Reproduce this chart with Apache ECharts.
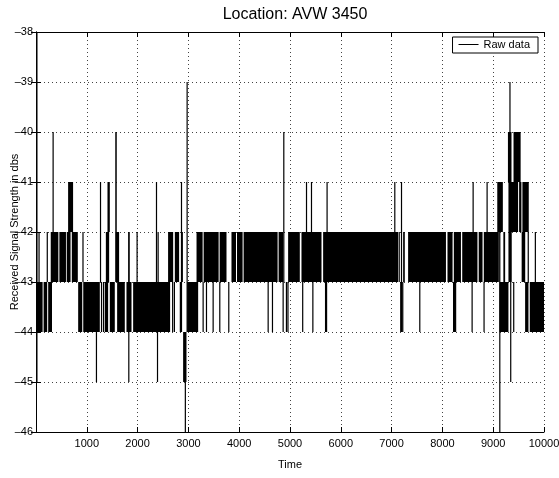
<!DOCTYPE html>
<html>
<head>
<meta charset="utf-8">
<script src="https://cdn.jsdelivr.net/npm/echarts@6/dist/echarts.min.js"></script>
<style>
html,body{margin:0;padding:0;background:#fff;}
#chart{width:559px;height:478px;}
</style>
</head>
<body>
<div id="chart"></div>
<script>
// Axis ranges / ticks
const xMin = 0, xMax = 10000, xStep = 1000;
const yMin = -46, yMax = -38, yStep = 1;

// Dense toggling runs of the raw signal, [tStart, tEnd], per level pair
// between -44 and -43
const runs44to43 = [[0,130],[150,220],[240,315],[830,910],[930,1256],[1355,1420],[1453,1551],[1597,1748],
  [1781,1880],[1912,2640],[2830,2870],[2975,3192],[9125,9300],[9628,9694],[9720,10000]];
// between -43 and -42
const runs43to42 = [[290,440],[460,590],[605,680],[705,823],[1375,1440],[1570,1636],[1813,1846],[2600,2700],
  [2733,2817],[3160,3280],[3300,3595],[3615,3750],[3848,3937],[3957,4067],[4087,4756],[4776,4865],
  [4963,5193],[5226,5620],[5652,7128],[7227,7260],[7325,8070],[8100,8200],[8225,8365],[8390,8690],
  [8715,8790],[8815,9097],[9200,9235],[9300,9365],[9560,9630]];
// between -42 and -41
const runs42to41 = [[632,730],[1407,1453],[9080,9190],[9300,9490],[9510,9555],[9575,9700]];
// between -41 and -40
const runs41to40 = [[9290,9360],[9400,9540]];
// other wide excursions [tStart, tEnd, low, high]
const runsOther = [[0,30,-45,-38],[1560,1590,-43,-40],[2896,2962,-45,-44]];

// Single-sample excursions [t, low, high]
const spikes = [
  [1290,-44,-43],[1330,-44,-43],[2690,-44,-43],[2725,-44,-43],[3290,-44,-43],[3356,-44,-43],[3487,-44,-43],
  [3618,-44,-43],[3795,-44,-43],[4570,-44,-43],[4655,-44,-43],[4865,-44,-43],[4930,-44,-43],[4960,-44,-43],
  [5250,-44,-43],[5450,-44,-43],[5700,-44,-43],[5720,-44,-43],[7180,-44,-43],[7200,-44,-43],[7220,-44,-43],
  [7555,-44,-43],[8220,-44,-43],[8240,-44,-43],[8260,-44,-43],[8585,-44,-43],[8820,-44,-43],[9404,-44,-43],
  [10,-43,-42],[60,-43,-42],[222,-43,-42],[925,-43,-42],[1990,-43,-42],[2404,-43,-42],[2880,-43,-42],
  [7150,-43,-42],[9110,-43,-42],[9690,-43,-42],[9830,-43,-42],
  [1270,-43,-41],[2372,-43,-41],[2864,-44,-41],[5325,-42,-41],[5423,-42,-41],[5730,-43,-41],[7063,-42,-41],
  [7195,-44,-41],[8605,-42,-41],[8880,-42,-41],
  [337,-42,-40],[4878,-43,-40],
  [2975,-44,-39],[9330,-42,-39],
  [1190,-45,-44],[1827,-45,-44],[2392,-45,-44],[9345,-45,-43],
  [2940,-46,-45],[9130,-46,-42]
];

const seriesData = []
  .concat(runs44to43.map(r => [r[0], r[1], -44, -43]))
  .concat(runs43to42.map(r => [r[0], r[1], -43, -42]))
  .concat(runs42to41.map(r => [r[0], r[1], -42, -41]))
  .concat(runs41to40.map(r => [r[0], r[1], -41, -40]))
  .concat(runsOther.map(r => [r[0], r[1], r[2], r[3]]))
  .concat(spikes.map(s => [s[0], s[0], s[1], s[2]]));

const FONT = "'Liberation Sans', Arial, Helvetica, sans-serif";
const gridLine = {show: true, lineStyle: {color: '#444', type: [1, 3], width: 1}};
const fmtY = v => (v < 0 ? '\u2013' : '') + Math.abs(v);

const chart = echarts.init(document.getElementById('chart'), null, {renderer: 'canvas'});
chart.setOption({
  animation: false,
  backgroundColor: '#fff',
  title: {
    text: 'Location: AVW 3450',
    left: 290, top: 2, textAlign: 'center',
    textStyle: {fontFamily: FONT, fontSize: 16, fontWeight: 'normal', color: '#000'}
  },
  legend: {
    data: [{name: 'Raw data', icon: 'rect'}],
    right: 21, top: 37,
    itemWidth: 20, itemHeight: 1,
    padding: [2, 8, 3, 6],
    borderColor: '#000', borderWidth: 1, backgroundColor: '#fff',
    textStyle: {fontFamily: FONT, fontSize: 11, color: '#000'}
  },
  grid: {left: 36, right: 15, top: 32, bottom: 46, containLabel: false, outerBoundsMode: 'none'},
  xAxis: [{
    type: 'value', min: xMin, max: xMax, interval: xStep,
    name: 'Time', nameLocation: 'middle', nameGap: 27, nameMoveOverlap: false,
    nameTextStyle: {fontFamily: FONT, fontSize: 11, color: '#000'},
    axisLine: {show: true, lineStyle: {color: '#000', width: 1}},
    axisTick: {show: true, inside: true, length: 5, lineStyle: {color: '#000'}},
    axisLabel: {fontFamily: FONT, fontSize: 11, color: '#000', margin: 6, hideOverlap: false,
      formatter: v => v === 0 ? '' : String(v)},
    splitLine: gridLine
  }, {
    type: 'value', min: xMin, max: xMax, interval: xStep, position: 'top',
    axisLine: {show: true, lineStyle: {color: '#000', width: 1}},
    axisTick: {show: true, inside: true, length: 5, lineStyle: {color: '#000'}},
    axisLabel: {show: false}, splitLine: {show: false}
  }],
  yAxis: [{
    type: 'value', min: yMin, max: yMax, interval: yStep,
    name: 'Received Signal Strength in dbs', nameLocation: 'middle', nameGap: 16, nameMoveOverlap: false,
    nameTextStyle: {fontFamily: FONT, fontSize: 11, color: '#000'},
    axisLine: {show: true, lineStyle: {color: '#000', width: 1}},
    axisTick: {show: true, inside: true, length: 5, lineStyle: {color: '#000'}},
    axisLabel: {fontFamily: FONT, fontSize: 11, color: '#000', margin: 3, formatter: fmtY},
    splitLine: gridLine
  }, {
    type: 'value', min: yMin, max: yMax, interval: yStep, position: 'right',
    axisLine: {show: true, lineStyle: {color: '#000', width: 1}},
    axisTick: {show: true, inside: true, length: 5, lineStyle: {color: '#000'}},
    axisLabel: {show: false}, splitLine: {show: false}
  }],
  series: [{
    name: 'Raw data',
    type: 'custom',
    xAxisIndex: 0, yAxisIndex: 0,
    itemStyle: {color: '#000'},
    encode: {x: [0, 1], y: [2, 3]},
    clip: true,
    renderItem: function (params, api) {
      const pA = api.coord([api.value(0), api.value(3)]);
      const pB = api.coord([api.value(1), api.value(2)]);
      let x = pA[0], w = pB[0] - pA[0];
      if (w < 1.2) { x = (pA[0] + pB[0]) / 2 - 0.6; w = 1.2; }
      return {
        type: 'rect',
        shape: {x: x, y: pA[1], width: w, height: pB[1] - pA[1]},
        style: {fill: '#000'}
      };
    },
    data: seriesData
  }]
});
</script>
</body>
</html>
